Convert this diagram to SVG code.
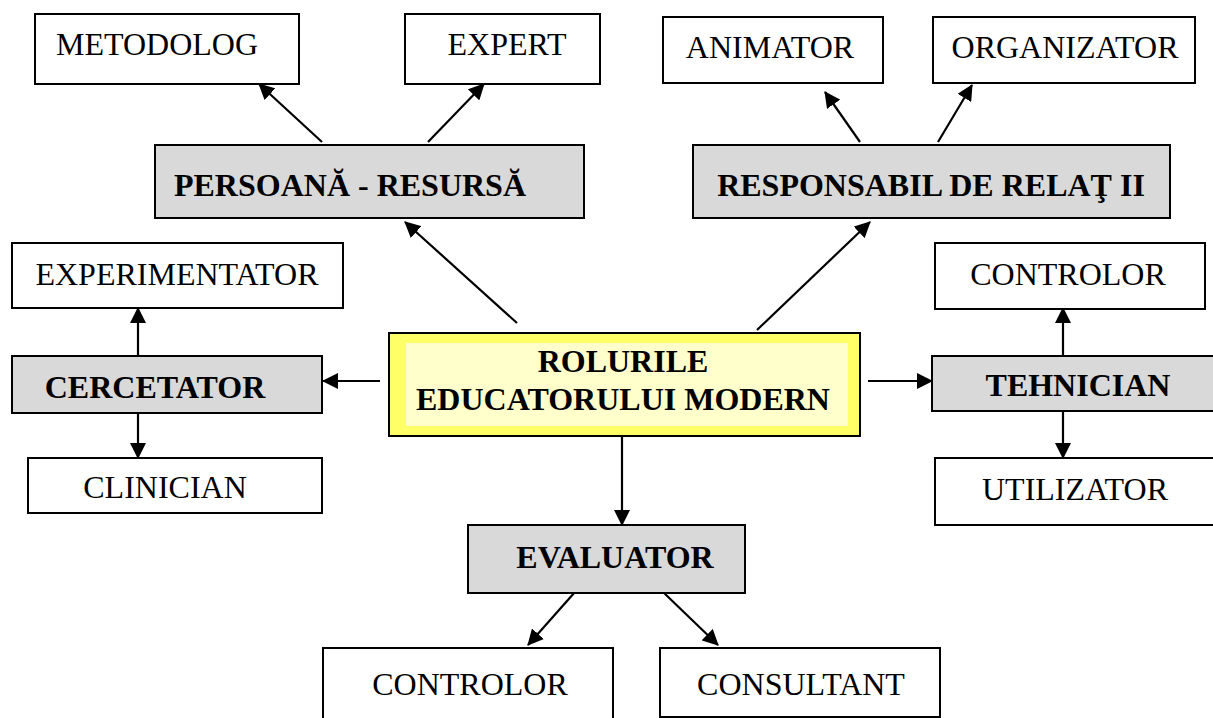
<svg xmlns="http://www.w3.org/2000/svg" width="1213" height="718" viewBox="0 0 1213 718">
  <style>
    .box { fill: #ffffff; stroke: #000000; stroke-width: 2; }
    .role { fill: #d9d9d9; stroke: #000000; stroke-width: 2; }
    .t { font-family: "Liberation Serif", "Times New Roman", serif; font-size: 32px; fill: #000000; text-anchor: middle; }
    .b { font-weight: bold; }
    .link { stroke: #000000; stroke-width: 2.2; fill: none; marker-end: url(#arrow); }
  </style>
  <defs>
    <marker id="arrow" markerUnits="userSpaceOnUse" markerWidth="16" markerHeight="16" refX="15" refY="8" orient="auto">
      <path d="M0,0 L16,8 L0,16 Z" fill="#000000"/>
    </marker>
  </defs>

  <rect width="1213" height="718" fill="#ffffff"/>

  <!-- connectors -->
  <g id="connectors">
    <line class="link" x1="517" y1="323" x2="405" y2="222"/>
    <line class="link" x1="757" y1="330" x2="870" y2="222"/>
    <line class="link" x1="322" y1="142" x2="259" y2="84"/>
    <line class="link" x1="428" y1="142" x2="484" y2="84"/>
    <line class="link" x1="860" y1="142" x2="825" y2="92"/>
    <line class="link" x1="938" y1="142" x2="972" y2="85"/>
    <line class="link" x1="380" y1="381" x2="323" y2="381"/>
    <line class="link" x1="868" y1="381" x2="932" y2="381"/>
    <line class="link" x1="138" y1="356" x2="138" y2="308"/>
    <line class="link" x1="138" y1="413" x2="138" y2="458"/>
    <line class="link" x1="1063" y1="356" x2="1063" y2="308"/>
    <line class="link" x1="1063" y1="410" x2="1063" y2="458"/>
    <line class="link" x1="622" y1="436" x2="622" y2="525"/>
    <line class="link" x1="575" y1="592" x2="528" y2="645"/>
    <line class="link" x1="663" y1="592" x2="718" y2="645"/>
  </g>

  <!-- central node -->
  <g id="center">
    <rect x="389" y="333" width="471" height="103" fill="#ffff66" stroke="#000000" stroke-width="2"/>
    <rect x="406" y="343" width="442" height="83" fill="#ffffcc"/>
    <text class="t b" x="623" y="372">ROLURILE</text>
    <text class="t b" x="623" y="410">EDUCATORULUI MODERN</text>
  </g>

  <!-- role nodes -->
  <g id="persoana-resursa">
    <rect class="role" x="155" y="145" width="429" height="73"/>
    <text class="t b" x="350" y="196">PERSOANĂ - RESURSĂ</text>
  </g>
  <g id="responsabil">
    <rect class="role" x="693" y="145" width="477" height="73"/>
    <text class="t b" x="931" y="196">RESPONSABIL DE RELAŢ II</text>
  </g>
  <g id="cercetator">
    <rect class="role" x="12" y="356" width="310" height="57"/>
    <text class="t b" x="155" y="398">CERCETATOR</text>
  </g>
  <g id="tehnician">
    <rect class="role" x="932" y="356" width="290" height="55"/>
    <text class="t b" x="1078" y="396">TEHNICIAN</text>
  </g>
  <g id="evaluator">
    <rect class="role" x="468" y="525" width="277" height="68"/>
    <text class="t b" x="615" y="568">EVALUATOR</text>
  </g>

  <!-- leaf nodes -->
  <g id="metodolog">
    <rect class="box" x="35" y="14" width="264" height="70"/>
    <text class="t" x="157" y="55">METODOLOG</text>
  </g>
  <g id="expert">
    <rect class="box" x="405" y="14" width="195" height="70"/>
    <text class="t" x="507" y="55">EXPERT</text>
  </g>
  <g id="animator">
    <rect class="box" x="663" y="17" width="220" height="66"/>
    <text class="t" x="770" y="58">ANIMATOR</text>
  </g>
  <g id="organizator">
    <rect class="box" x="933" y="17" width="262" height="66"/>
    <text class="t" x="1065" y="58">ORGANIZATOR</text>
  </g>
  <g id="experimentator">
    <rect class="box" x="12" y="243" width="331" height="65"/>
    <text class="t" x="177" y="285">EXPERIMENTATOR</text>
  </g>
  <g id="controlor-tehnic">
    <rect class="box" x="935" y="243" width="270" height="66"/>
    <text class="t" x="1068" y="285">CONTROLOR</text>
  </g>
  <g id="clinician">
    <rect class="box" x="28" y="458" width="294" height="55"/>
    <text class="t" x="165" y="498">CLINICIAN</text>
  </g>
  <g id="utilizator">
    <rect class="box" x="935" y="458" width="290" height="67"/>
    <text class="t" x="1075" y="500">UTILIZATOR</text>
  </g>
  <g id="controlor-evaluare">
    <rect class="box" x="323" y="648" width="290" height="80"/>
    <text class="t" x="470" y="695">CONTROLOR</text>
  </g>
  <g id="consultant">
    <rect class="box" x="660" y="648" width="280" height="69"/>
    <text class="t" x="801" y="695">CONSULTANT</text>
  </g>
</svg>
